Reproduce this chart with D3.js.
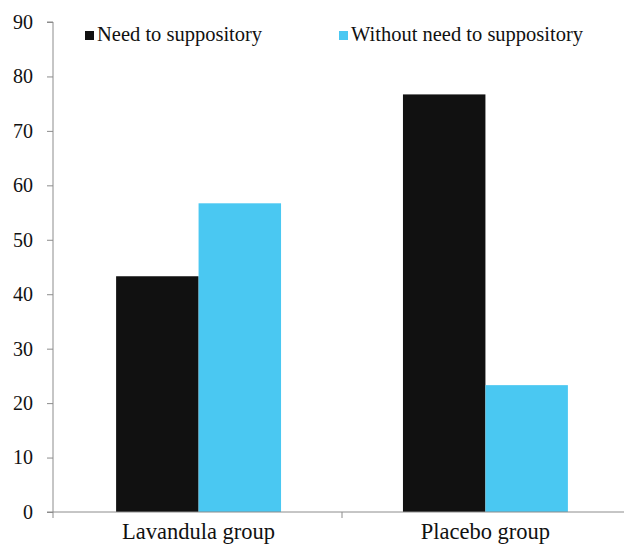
<!DOCTYPE html>
<html>
<head>
<meta charset="utf-8">
<script src="https://cdn.jsdelivr.net/npm/d3@7"></script>
<style>
  body { margin: 0; background: #fff; }
  svg { display: block; font-family: "Liberation Serif", "DejaVu Serif", serif; }
</style>
</head>
<body>
<div id="chart"></div>
<script>
// data (percent)
const groups = ['Lavandula group', 'Placebo group'];
const seriesNames = ['Need to suppository', 'Without need to suppository'];
const needValues = [43.3, 76.7];
const withoutValues = [56.7, 23.3];
const yTicks = [0, 10, 20, 30, 40, 50, 60, 70, 80, 90];

const colors = ['#111111', '#4ac8f2'];

const svgWidth = 624, svgHeight = 545;
const margin = { top: 22, right: 0, bottom: 33, left: 53 };
const width = svgWidth - margin.left - margin.right;
const height = svgHeight - margin.top - margin.bottom;

const svg = d3.select('#chart').append('svg')
  .attr('width', svgWidth)
  .attr('height', svgHeight);
const g = svg.append('g')
  .attr('transform', `translate(${margin.left}, ${margin.top})`);

// the category bands run a bit past the right edge, as in the reference
const bandRange = 578;
const x0 = d3.scaleBand().domain(groups).range([0, bandRange]).paddingInner(0.425).paddingOuter(0.22);
const x1 = d3.scaleBand().domain(seriesNames).range([0, x0.bandwidth()]);
const y = d3.scaleLinear().domain([0, 90]).range([height, 0]);

const rows = groups.map((grp, i) => ({
  group: grp,
  values: [needValues[i], withoutValues[i]],
}));

// bars
const grpG = g.selectAll('.grp')
  .data(rows)
  .enter()
  .append('g')
  .attr('transform', d => `translate(${x0(d.group)}, 0)`);
grpG.selectAll('rect')
  .data(d => d.values.map((v, i) => ({ name: seriesNames[i], v, i })))
  .enter()
  .append('rect')
  .attr('x', d => x1(d.name))
  .attr('y', d => y(d.v))
  .attr('width', x1.bandwidth())
  .attr('height', d => height - y(d.v))
  .attr('fill', d => colors[d.i]);

// y axis
const yAxis = g.append('g')
  .call(d3.axisLeft(y).tickValues(yTicks).tickSize(6).tickPadding(14))
  .attr('font-family', null)
  .attr('font-size', null);
yAxis.select('.domain').attr('stroke', '#8c8c8c').attr('d', `M-6,${height}H0V0H-6`);
yAxis.selectAll('.tick line').attr('stroke', '#8c8c8c');
yAxis.selectAll('.tick text')
  .attr('fill', '#111')
  .style('font-size', '20px');

// x axis: baseline with ticks between groups
const xAxisG = g.append('g').attr('transform', `translate(0, ${height})`);
xAxisG.append('line')
  .attr('x1', 0).attr('x2', width)
  .attr('stroke', '#8c8c8c');
const sepTicks = [0, bandRange / 2];
xAxisG.selectAll('.sep')
  .data(sepTicks)
  .enter()
  .append('line')
  .attr('x1', d => d).attr('x2', d => d)
  .attr('y1', 0).attr('y2', 6)
  .attr('stroke', '#8c8c8c');
xAxisG.selectAll('.lbl')
  .data(groups)
  .enter()
  .append('text')
  .attr('x', d => x0(d) + x0.bandwidth() / 2)
  .attr('y', 27)
  .attr('text-anchor', 'middle')
  .attr('fill', '#111')
  .style('font-size', '22.5px')
  .text(d => d);

// legend
const legendX = [85, 339];
const legend = svg.selectAll('.legend')
  .data(seriesNames)
  .enter()
  .append('g')
  .attr('transform', (d, i) => `translate(${legendX[i]}, 29)`);
legend.append('rect')
  .attr('width', 9).attr('height', 9)
  .attr('y', 2)
  .attr('fill', (d, i) => colors[i]);
legend.append('text')
  .attr('x', 12)
  .attr('y', 12)
  .attr('fill', '#111')
  .style('font-size', '20.5px')
  .text(d => d);
</script>
</body>
</html>
